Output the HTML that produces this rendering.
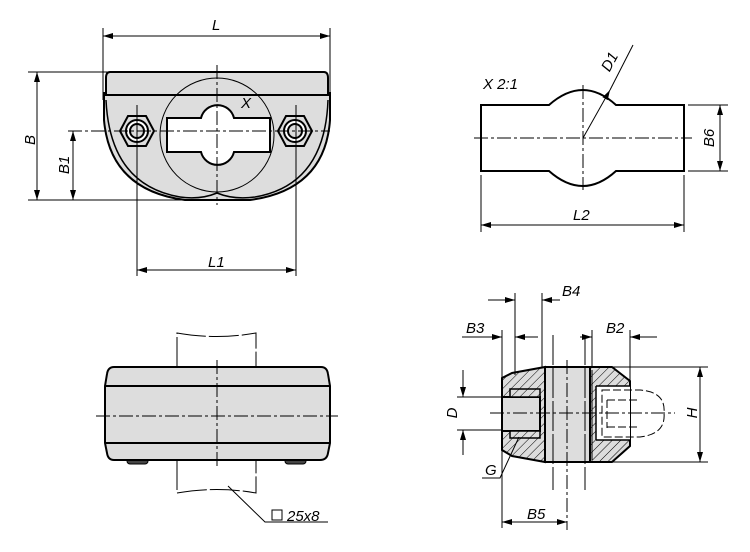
<!DOCTYPE html>
<html><head><meta charset="utf-8"><style>
html,body{margin:0;padding:0;background:#fff}
svg{display:block}
text{font-family:"Liberation Sans",sans-serif;font-style:italic;font-size:15px;fill:#000}
</style></head><body>
<svg width="750" height="552" viewBox="0 0 750 552" xmlns="http://www.w3.org/2000/svg">
<defs>
<marker id="a" viewBox="0 0 10 6" refX="10" refY="3" markerWidth="10" markerHeight="6" orient="auto-start-reverse" markerUnits="userSpaceOnUse"><path d="M0,0L10,3L0,6z" fill="#000"/></marker>
<pattern id="h" width="6" height="6" patternUnits="userSpaceOnUse" patternTransform="rotate(45)"><rect width="6" height="6" fill="#ddd"/><line x1="0" y1="0" x2="0" y2="6" stroke="#000" stroke-width="1"/></pattern>
</defs>
<g fill="none" stroke="#000" stroke-width="1">
<!-- TOP LEFT VIEW -->
<path d="M104,92 L104,120 Q110,190 185,200 L250,200 Q325,190 330,120 L330,92" fill="#ddd" stroke-width="2"/>
<path d="M110,72 L324,72 Q328,72 328,78 L328,95 L106,95 L106,78 Q106,72 110,72Z" fill="#ddd" stroke-width="2"/>
<path d="M106,100 Q110,185 180,197 Q200,200 217,193 Q234,200 255,197 Q325,185 328,100" stroke-width="1.5"/>
<circle cx="217" cy="135" r="57" fill="#ddd"/>
<line x1="160" y1="95" x2="274" y2="95" stroke-width="2"/>
<path d="M167,118 L201,118 A17,17 0 0 1 234,118 L270,118 L270,152 L234,152 A17,17 0 0 1 201,152 L167,152Z" fill="#fff" stroke-width="2"/>
<g stroke-width="2">
<polygon points="120,131 128,116 146,116 154,131 146,146 128,146" fill="#ddd"/>
<circle cx="137" cy="131" r="11" fill="#fff"/><circle cx="137" cy="131" r="7" fill="#ddd"/>
<polygon points="278,131 286,116 304,116 312,131 304,146 286,146" fill="#ddd"/>
<circle cx="295" cy="131" r="11" fill="#fff"/><circle cx="295" cy="131" r="7" fill="#ddd"/>
</g>
<path d="M217,65V205M68,131H330" stroke-dasharray="14,3,3,3"/>
<line x1="103" y1="28" x2="103" y2="100"/><line x1="330" y1="28" x2="330" y2="100"/>
<line x1="103" y1="36" x2="330" y2="36" marker-start="url(#a)" marker-end="url(#a)"/>
<line x1="28" y1="72" x2="108" y2="72"/><line x1="28" y1="200" x2="190" y2="200"/>
<line x1="37" y1="72" x2="37" y2="200" marker-start="url(#a)" marker-end="url(#a)"/>
<line x1="73" y1="131" x2="73" y2="200" marker-start="url(#a)" marker-end="url(#a)"/>
<line x1="137" y1="105" x2="137" y2="276"/><line x1="296" y1="105" x2="296" y2="276"/>
<line x1="137" y1="270" x2="296" y2="270" marker-start="url(#a)" marker-end="url(#a)"/>
<!-- TOP RIGHT -->
<path d="M481,105 L549,105 Q583,75 616,105 L684,105 L684,171 L616,171 Q583,201 549,171 L481,171Z" fill="none" stroke-width="2"/>
<path d="M474,138H692M583,85V190" stroke-dasharray="14,3,3,3"/>
<line x1="583" y1="138" x2="610" y2="90" marker-end="url(#a)"/><line x1="610" y1="90" x2="633" y2="45"/>
<line x1="481" y1="175" x2="481" y2="232"/><line x1="684" y1="175" x2="684" y2="232"/>
<line x1="481" y1="225" x2="684" y2="225" marker-start="url(#a)" marker-end="url(#a)"/>
<line x1="688" y1="105" x2="728" y2="105"/><line x1="688" y1="171" x2="728" y2="171"/>
<line x1="720" y1="105" x2="720" y2="171" marker-start="url(#a)" marker-end="url(#a)"/>
<!-- BOTTOM LEFT -->
<path d="M177,367V333Q217,340 256,333V367M177,460V493Q217,486 256,493V460" stroke-dasharray="30,3"/>
<rect x="127" y="458" width="21" height="6" rx="3" fill="#444"/><rect x="285" y="458" width="21" height="6" rx="3" fill="#444"/>
<path d="M114,367 L321,367 Q327,367 328,374 L330,386 L330,443 L328,453 Q327,460 320,460 L114,460 Q108,460 107,453 L105,443 L105,386 L107,374 Q108,367 114,367Z" fill="#ddd" stroke-width="2"/>
<line x1="106" y1="386" x2="329" y2="386" stroke-width="2"/><line x1="106" y1="443" x2="329" y2="443" stroke-width="2"/>
<path d="M96,416H338M217,360V468" stroke-dasharray="14,3,3,3"/>
<polyline points="228,486 265,522 328,522"/>
<rect x="272" y="510" width="10" height="10" fill="#fff"/>
<!-- BOTTOM RIGHT -->
<polygon points="502,378 512,373 545,367 545,462 512,456 502,450" fill="url(#h)" stroke-width="2"/>
<rect x="502" y="397" width="38" height="34" fill="#ddd" stroke-width="2"/>
<rect x="510" y="389" width="30" height="8" fill="url(#h)" stroke-width="1.5"/>
<rect x="510" y="431" width="30" height="7" fill="url(#h)" stroke-width="1.5"/>
<rect x="545" y="367" width="45" height="95" fill="#ddd" stroke-width="2"/>
<path d="M590,367 L612,367 L630,381 L630,446 L612,462 L590,462Z" fill="url(#h)" stroke-width="2"/>
<path d="M596,386 L630,386 L630,440 L596,440Z" fill="#fff" stroke="none"/>
<path d="M596,386 L630,386 M596,440 L630,440 M596,386 L596,440" stroke-width="1.5"/>
<path d="M602,390 L640,390 Q666,392 664,413 Q666,434 640,437 L602,437 Z" stroke-dasharray="8,3"/>
<path d="M607,400 L607,428 M607,400 L640,400 M607,427 L640,427" stroke-dasharray="8,3"/>
<line x1="592" y1="370" x2="592" y2="460"/>
<path d="M553,335V490M585,335V490" stroke-dasharray="30,3"/>
<path d="M490,413H675M567,360V530" stroke-dasharray="14,3,3,3"/>
<line x1="502" y1="330" x2="502" y2="528"/><line x1="515" y1="293" x2="515" y2="375"/><line x1="542" y1="293" x2="542" y2="367"/>
<line x1="488" y1="300" x2="515" y2="300" marker-end="url(#a)"/><line x1="542" y1="300" x2="560" y2="300" marker-start="url(#a)"/>
<line x1="462" y1="337" x2="502" y2="337" marker-end="url(#a)"/><line x1="515" y1="337" x2="538" y2="337" marker-start="url(#a)"/>
<line x1="580" y1="337" x2="592" y2="337" marker-end="url(#a)"/><line x1="630" y1="337" x2="657" y2="337" marker-start="url(#a)"/>
<line x1="592" y1="330" x2="592" y2="367"/><line x1="630" y1="330" x2="630" y2="381"/>
<line x1="612" y1="367" x2="708" y2="367"/><line x1="612" y1="462" x2="708" y2="462"/>
<line x1="700" y1="367" x2="700" y2="462" marker-start="url(#a)" marker-end="url(#a)"/>
<line x1="457" y1="397" x2="502" y2="397"/><line x1="457" y1="430" x2="502" y2="430"/>
<line x1="463" y1="370" x2="463" y2="397" marker-end="url(#a)"/><line x1="463" y1="430" x2="463" y2="455" marker-start="url(#a)"/>
<line x1="502" y1="522" x2="567" y2="522" marker-start="url(#a)" marker-end="url(#a)"/>
<polyline points="519,437 500,478 482,478"/>
</g>
<text x="212" y="30">L</text>
<text x="241" y="108">X</text>
<text x="208" y="267">L1</text>
<text transform="translate(35,140) rotate(-90)" text-anchor="middle">B</text>
<text transform="translate(69,165) rotate(-90)" text-anchor="middle">B1</text>
<text x="483" y="89">X  2:1</text>
<text transform="translate(614,64) rotate(-62)" text-anchor="middle">D1</text>
<text x="573" y="220">L2</text>
<text transform="translate(714,138) rotate(-90)" text-anchor="middle">B6</text>
<text x="287" y="521">25x8</text>
<text x="562" y="296">B4</text>
<text x="466" y="333">B3</text>
<text x="606" y="333">B2</text>
<text transform="translate(457,413) rotate(-90)" text-anchor="middle">D</text>
<text transform="translate(697,413) rotate(-90)" text-anchor="middle">H</text>
<text x="485" y="475">G</text>
<text x="527" y="519">B5</text>
</svg>
</body></html>
